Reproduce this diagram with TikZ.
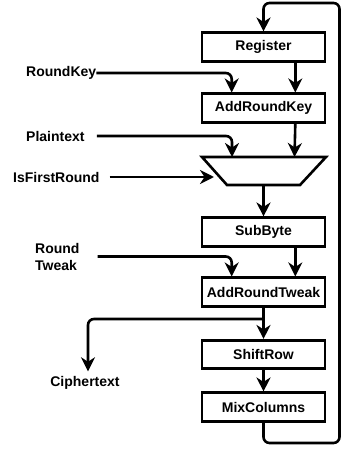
\documentclass[tikz,border=0pt]{standalone}
\usepackage{fontspec}
\setmainfont{Liberation Sans}
\usetikzlibrary{arrows.meta,calc}

\begin{document}
\begin{tikzpicture}[x=1bp,y=-1bp,
    font=\fontsize{14bp}{17bp}\selectfont\bfseries,
    stage/.style={draw, line width=2.6bp, minimum width=123bp, minimum height=28.5bp, inner sep=0pt},
    flow/.style={-{Stealth[length=14bp,width=14bp,inset=4.5bp]}, line width=2.6bp, rounded corners=6bp},
    lbl/.style={inner sep=0pt, anchor=west}]
    \useasboundingbox (0,0) rectangle (342,449);

    % datapath
    \node[stage] (reg) at (263.5,47) {Register};
    \node[stage] (ark) at (263.5,108) {AddRoundKey};
    \draw[line width=2.6bp, line join=miter] (202,157) -- (326,157) -- (300,185) -- (227,185) -- cycle;
    \coordinate (muxa) at (232,157);
    \coordinate (muxb) at (294.5,157);
    \coordinate (muxsel) at (214,177);
    \coordinate (muxout) at (263.5,185);
    \node[stage] (sub) at (263.5,232) {SubByte};
    \node[stage] (art) at (263.5,292) {AddRoundTweak};
    \node[stage] (shr) at (263.5,354.5) {ShiftRow};
    \node[stage] (mix) at (263.5,407) {MixColumns};

    % inputs and output
    \node[lbl] (rk) at (26,73) {RoundKey};
    \node[lbl] (pt) at (26,136) {Plaintext};
    \node[lbl] (ifr) at (13,177) {IsFirstRound};
    \node[lbl, align=left] (rt) at (35,256.5) {Round\\Tweak};
    \node[inner sep=0pt] (ct) at (85,383) {Ciphertext};

    \draw[flow] (rk.east) -| ([xshift=31bp]ark.north west);
    \draw[flow] ([xshift=-31bp]reg.south east) -- ([xshift=-31bp]ark.north east);
    \draw[flow] ([xshift=12bp]pt.east) -| (muxa);
    \draw[flow] ([xshift=-31bp]ark.south east) -- (muxb);
    \draw[flow] ([xshift=10bp]ifr.east) -- (muxsel);
    \draw[flow] (muxout) -- (sub.north);
    \draw[flow] ([xshift=18bp]rt.east) -| ([xshift=31bp]art.north west);
    \draw[flow] ([xshift=-31bp]sub.south east) -- ([xshift=-31bp]art.north east);
    \draw[flow] (art.south) -- (shr.north);
    \coordinate (split) at (263.5,319);
    \draw[flow] (split) -| ([xshift=3bp,yshift=5bp]ct.north);
    \draw[flow] (shr.south) -- (mix.north);

    % feedback loop
    \draw[flow] (mix.south) -- (263.5,443) -| (339.5,3) -| (reg.north);
\end{tikzpicture}
\end{document}
